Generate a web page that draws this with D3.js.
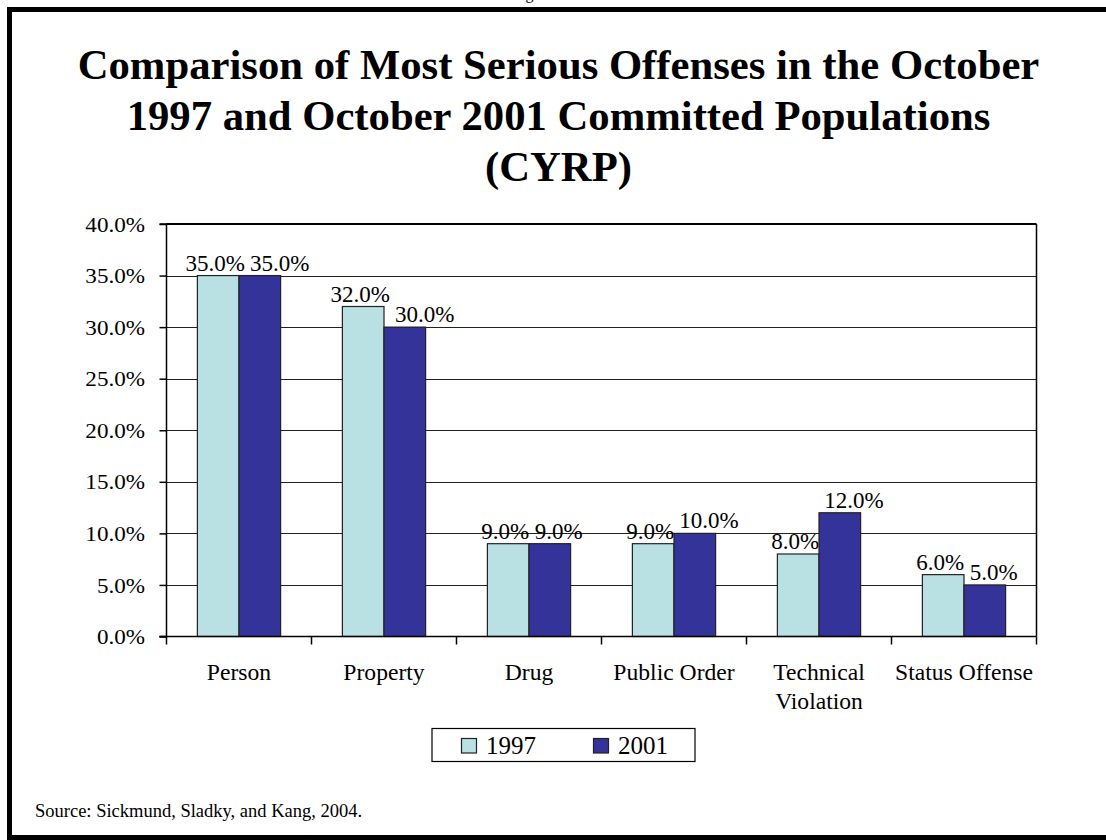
<!DOCTYPE html>
<html><head><meta charset="utf-8">
<script src="https://cdn.jsdelivr.net/npm/d3@7"></script>
<style>html,body{margin:0;padding:0;background:#fff;}svg{display:block;} text{font-family:"Liberation Serif","Times New Roman",serif;fill:#000;}</style>
</head><body>
<script>
const categories = ["Person","Property","Drug","Public Order","Technical Violation","Status Offense"];
const seriesNames = ["1997","2001"];
const values1997 = [35,32,9,9,8,6];
const values2001 = [35,30,9,10,12,5];
const yTicks = [0,5,10,15,20,25,30,35,40];
const titleLines = ["Comparison of Most Serious Offenses in the October","1997 and October 2001 Committed Populations","(CYRP)"];
const sourceText = "Source:  Sickmund, Sladky, and Kang, 2004.";
const headerText = "Figure";
const colors = ["#B9E0E3","#333399"];

const W=1106,H=840;
const svg=d3.select("body").append("svg").attr("width",W).attr("height",H);

svg.append("rect").attr("x",9.5).attr("y",9.5).attr("width",W+10).attr("height",H-9.5-2.5)
  .attr("fill","none").attr("stroke","#000").attr("stroke-width",5);
svg.append("text").attr("x",533).attr("y",-1).attr("text-anchor","middle")
  .style("font-size","16px").text(headerText);

// title
svg.append("g").selectAll("text").data(titleLines).join("text")
  .attr("x",558.5).attr("y",(d,i)=>78.5+i*51).attr("text-anchor","middle")
  .style("font-weight","bold").style("font-size","42.7px").text(d=>d);

const L=166.5,R=1036.5,T=224,B=636.5;
const x=d3.scaleBand().domain(categories).range([L,R]);
const groupPad=(1-2*0.287)/2;
const xs=d3.scaleBand().domain(seriesNames).range([x.bandwidth()*groupPad,x.bandwidth()*(1-groupPad)]);
const y=d3.scaleLinear().domain([0,40]).range([B,T]);

svg.append("g").selectAll("line").data(yTicks.filter(t=>t>0&&t<40)).join("line")
  .attr("x1",L).attr("x2",R).attr("y1",d=>Math.round(y(d))+0.5).attr("y2",d=>Math.round(y(d))+0.5)
  .attr("stroke","#222").attr("stroke-width",1.2);
svg.append("line").attr("x1",R).attr("x2",R).attr("y1",T).attr("y2",B).attr("stroke","#000").attr("stroke-width",1.5);
svg.append("line").attr("x1",L).attr("x2",R).attr("y1",T).attr("y2",T).attr("stroke","#000").attr("stroke-width",2);

const data=categories.map((c,i)=>({c,vals:[values1997[i],values2001[i]]}));
const g=svg.append("g");
const labelDx=[-3,9];
data.forEach(d=>{
  let prevEnd=-Infinity;
  seriesNames.forEach((s,j)=>{
    const v=d.vals[j];
    const bx=x(d.c)+xs(s);
    g.append("rect").attr("x",bx).attr("y",y(v)).attr("width",xs.bandwidth()).attr("height",y(0)-y(v))
      .attr("fill",colors[j]).attr("stroke","#222").attr("stroke-width",1.2);
    const t=g.append("text").attr("y",y(v)-5).attr("text-anchor","start")
      .style("font-size","23px").text(d3.format(".1f")(v)+"%");
    const w=t.node().getComputedTextLength();
    let start=bx+xs.bandwidth()/2+labelDx[j]-w/2;
    if(start<prevEnd+5) start=prevEnd+5;
    t.attr("x",start);
    prevEnd=start+w;
  });
});

const yAxis=d3.axisLeft(y).tickValues(yTicks).tickSize(7).tickPadding(14).tickFormat(d=>d3.format(".1f")(d)+"%");
const ya=svg.append("g").attr("transform",`translate(${L},0)`).call(yAxis);
ya.attr("font-family",null).attr("font-size",null);
ya.selectAll("text").attr("x",0).attr("dy","0.34em").attr("transform","translate(-21.5,0) scale(1.1,1)").style("font-size","21px");
ya.selectAll("line").attr("stroke","#000").attr("stroke-width",1.5);
ya.select(".domain").attr("stroke","#000").attr("stroke-width",1.5).attr("d",`M-7,${T}H0V${B}H-7`);

const xa=svg.append("g").attr("transform",`translate(0,${B})`);
xa.append("line").attr("x1",L-7).attr("x2",R).attr("y1",0).attr("y2",0).attr("stroke","#000").attr("stroke-width",1.5);
const tickPos=categories.map(c=>x(c)).concat([R]);
xa.selectAll("line.t").data(tickPos).join("line").attr("class","t")
  .attr("x1",d=>d).attr("x2",d=>d).attr("y1",0).attr("y2",8).attr("stroke","#000").attr("stroke-width",1.5);
xa.selectAll("text.c").data(categories).join("text").attr("class","c")
  .attr("text-anchor","middle")
  .attr("transform",d=>`translate(${x(d)+x.bandwidth()/2},0) scale(1.05,1)`)
  .style("font-size","22.5px")
  .each(function(d){
    const words = d==="Technical Violation" ? ["Technical","Violation"] : [d];
    d3.select(this).selectAll("tspan").data(words).join("tspan")
      .attr("x",0).attr("y",(w,i)=>43.5+i*28.7).text(w=>w);
  });

const lg=svg.append("g");
lg.append("rect").attr("x",432).attr("y",728.5).attr("width",263).attr("height",33).attr("fill","#fff").attr("stroke","#000").attr("stroke-width",1.2);
const legX=[461,593];
seriesNames.forEach((s,j)=>{
  lg.append("rect").attr("x",legX[j]+0.5).attr("y",738.5).attr("width",15).attr("height",14.5).attr("fill",colors[j]).attr("stroke","#222").attr("stroke-width",1.2);
  lg.append("text").attr("x",legX[j]+25).attr("y",754).style("font-size","25px").text(s);
});

svg.append("text").attr("x",35).attr("y",817).style("font-size","18.5px").text(sourceText);
</script>
</body></html>
